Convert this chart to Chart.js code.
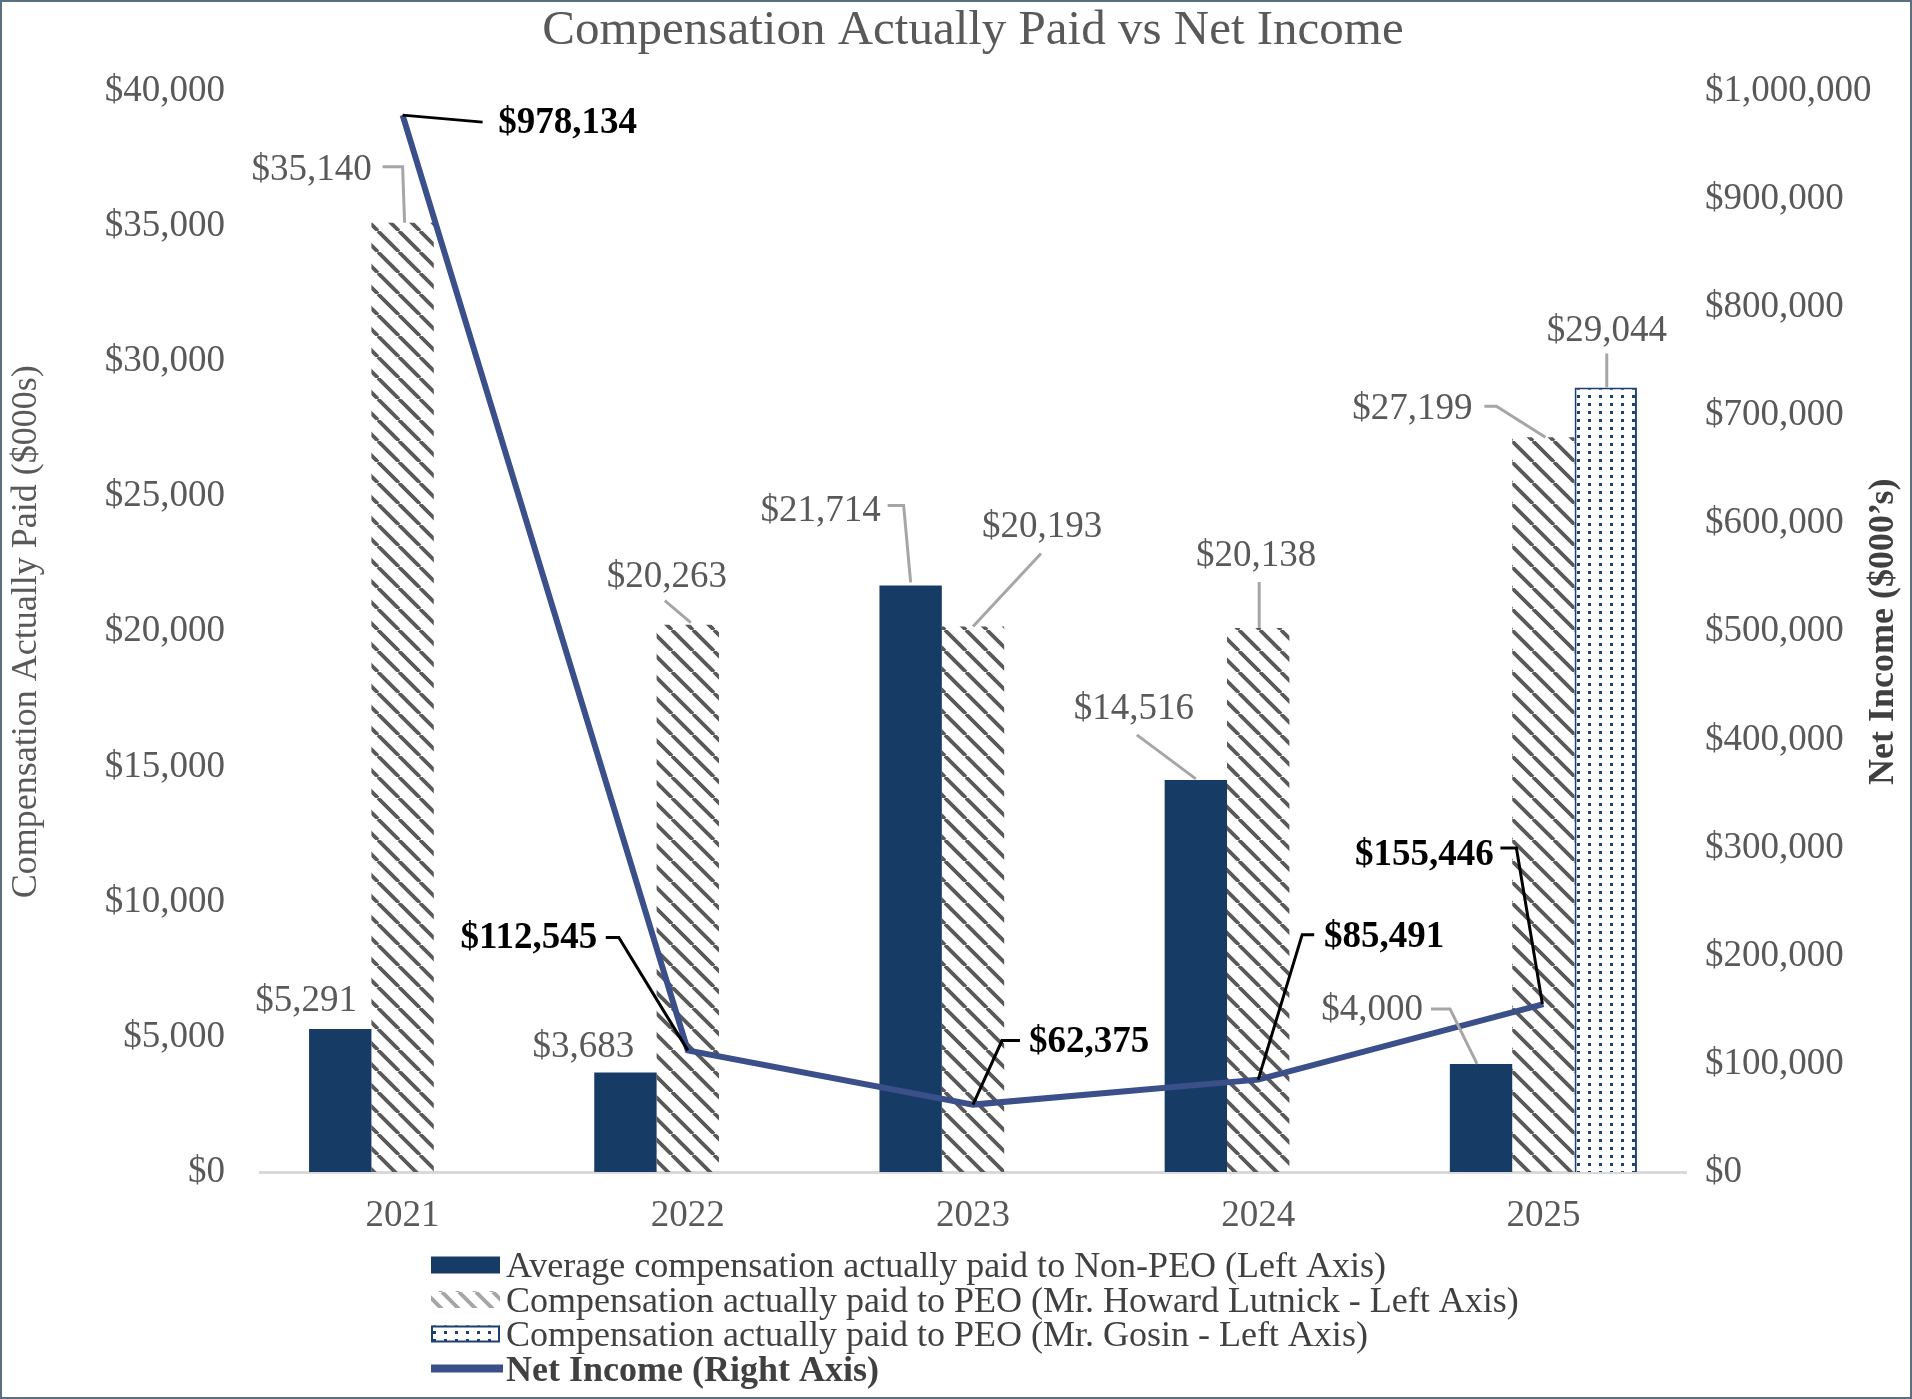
<!DOCTYPE html>
<html>
<head>
<meta charset="utf-8">
<title>Compensation Actually Paid vs Net Income</title>
<script src="https://cdn.jsdelivr.net/npm/chart.js@4.4.1/dist/chart.umd.min.js"></script>
<style>
  html, body { margin: 0; padding: 0; background: #fff; }
  canvas { display: block; }
</style>
</head>
<body>
<canvas id="cap" width="1912" height="1399"></canvas>
<script>
const years = ["2021", "2022", "2023", "2024", "2025"];
const nonPeoAvg = [5291, 3683, 21714, 14516, 4000];
const peoLutnick = [35140, 20263, 20193, 20138, 27199];
const peoGosin = [null, null, null, null, 29044];
const netIncome = [978134, 112545, 62375, 85491, 155446];

const leftMax = 40000, leftStep = 5000;
const rightMax = 1000000, rightStep = 100000;

// where each value label sits, relative to the top of its bar (or its point)
// t = centre of the text, p = leader line
const spotsNonPeo = [
  { t: [-34, -31] },
  { t: [-42, -28] },
  { t: [-90, -77], p: [[0, -3], [-7, -80], [-23, -80]] },
  { t: [-62, -73], p: [[0, -1], [-59, -45]] },
  { t: [-109, -56], p: [[-4, 0], [-31, -55], [-50, -55]] },
];
const spotsLutnick = [
  { t: [-91, -55], p: [[2, 0], [0, -56], [-20, -56]] },
  { t: [-21, -50], p: [[3, -2], [-23, -24]] },
  { t: [69, -102], p: [[0, 0], [68, -73]] },
  { t: [-2, -75], p: [[1, 0], [1, -46]] },
  { t: [-131, -31], p: [[2, 0], [-47, -31], [-59, -31]] },
];
const spotsGosin = [null, null, null, null, { t: [1, -59], p: [[1, 0], [1, -34]] }];
const spotsNet = [
  { t: [165, 5], p: [[0, 0], [80, 7]] },
  { t: [-159, -115], p: [[0, 0], [-69, -113], [-82, -113]] },
  { t: [116, -65], p: [[0, 0], [29, -64], [47, -64]] },
  { t: [126, -145], p: [[0, 0], [44, -145], [56, -145]] },
  { t: [-119, -152], p: [[-1, 0], [-27, -156], [-43, -156]] },
];

const SERIF = "'Liberation Serif', 'Times New Roman', serif";
const GREY = "#595959";
const NAVY = "#163c66";
const LINE = "#3b4f8a";

Chart.defaults.font.family = SERIF;

function money(v) {
  return "$" + Number(v).toLocaleString("en-US");
}

function hatch(color, size, width) {
  const c = document.createElement("canvas");
  c.width = c.height = size;
  const g = c.getContext("2d");
  g.strokeStyle = color;
  g.lineWidth = width;
  g.beginPath();
  for (const o of [-size, 0, size]) {
    g.moveTo(o, 0);
    g.lineTo(o + size, size);
  }
  g.stroke();
  return g.createPattern(c, "repeat");
}

function dots(color) {
  const c = document.createElement("canvas");
  c.width = 11;
  c.height = 8;
  const g = c.getContext("2d");
  g.fillStyle = "#fff";
  g.fillRect(0, 0, 11, 8);
  g.fillStyle = color;
  g.fillRect(4, 3, 3, 3);
  return g.createPattern(c, "repeat");
}

const hatchBar = hatch(GREY, 21, 3.8);
const hatchKey = hatch("#a6a6a6", 17, 4);
const dotBar = dots("#1c4170");

const valueLabels = {
  id: "valueLabels",
  afterDatasetsDraw(chart) {
    const ctx = chart.ctx;
    const looks = [
      { spots: spotsNonPeo, font: "37px " + SERIF, color: GREY, lead: "#a6a6a6" },
      { spots: spotsLutnick, font: "37px " + SERIF, color: GREY, lead: "#a6a6a6" },
      { spots: spotsGosin, font: "37px " + SERIF, color: GREY, lead: "#a6a6a6" },
      { spots: spotsNet, font: "bold 37px " + SERIF, color: "#000", lead: "#000" },
    ];
    ctx.save();
    looks.forEach((look, di) => {
      const meta = chart.getDatasetMeta(di);
      const data = chart.data.datasets[di].data;
      meta.data.forEach((el, i) => {
        const s = look.spots[i];
        if (data[i] == null || !s) return;
        const x = el.x, y = el.y;
        if (s.p) {
          ctx.strokeStyle = look.lead;
          ctx.lineWidth = 3;
          ctx.lineJoin = "miter";
          ctx.beginPath();
          s.p.forEach((q, k) => {
            if (k === 0) ctx.moveTo(x + q[0], y + q[1]);
            else ctx.lineTo(x + q[0], y + q[1]);
          });
          ctx.stroke();
        }
        ctx.font = look.font;
        ctx.fillStyle = look.color;
        ctx.textAlign = "center";
        ctx.textBaseline = "alphabetic";
        ctx.fillText(money(data[i]), x + s.t[0], y + s.t[1] + 12.5);
      });
    });
    ctx.restore();
  },
};

const sideBits = {
  id: "sideBits",
  afterDraw(chart) {
    const ctx = chart.ctx;
    const area = chart.chartArea;
    ctx.save();

    // right axis title, reading bottom to top
    ctx.translate(1884, (area.top + area.bottom) / 2);
    ctx.rotate(-Math.PI / 2);
    ctx.font = "bold 36px " + SERIF;
    ctx.fillStyle = "#404040";
    ctx.textAlign = "center";
    ctx.textBaseline = "middle";
    ctx.fillText("Net Income ($000\u2019s)", 0, 0);
    ctx.setTransform(1, 0, 0, 1, 0, 0);

    // legend, one entry per row
    const sets = chart.data.datasets;
    const keyX = 431, keyW = 69, keyH = 17, textX = 506;
    sets.forEach((ds, i) => {
      const cy = 1265 + i * 34.5;
      if (ds.type === "line") {
        ctx.fillStyle = ds.borderColor;
        ctx.fillRect(keyX, cy - 4, 72, 8);
      } else {
        ctx.fillStyle = i === 1 ? hatchKey : ds.backgroundColor;
        ctx.fillRect(keyX, cy - keyH / 2, keyW, keyH);
        if (ds.borderWidth) {
          ctx.strokeStyle = ds.borderColor;
          ctx.lineWidth = 2;
          ctx.strokeRect(keyX + 1, cy - keyH / 2 + 1, keyW - 2, keyH - 2);
        }
      }
      ctx.font = (ds.type === "line" ? "bold " : "") + "36px " + SERIF;
      ctx.fillStyle = "#404040";
      ctx.textAlign = "left";
      ctx.textBaseline = "alphabetic";
      ctx.fillText(ds.label, textX, cy + 12);
    });

    // frame
    ctx.strokeStyle = "#5b6f80";
    ctx.lineWidth = 2;
    ctx.strokeRect(1, 1, 1910, 1397);
    ctx.restore();
  },
};

new Chart(document.getElementById("cap"), {
  type: "bar",
  data: {
    labels: years,
    datasets: [
      {
        label: "Average compensation actually paid to Non-PEO (Left Axis)",
        data: nonPeoAvg,
        backgroundColor: NAVY,
        borderWidth: 0,
        yAxisID: "y",
        order: 2,
      },
      {
        label: "Compensation actually paid to PEO (Mr. Howard Lutnick - Left Axis)",
        data: peoLutnick,
        backgroundColor: hatchBar,
        borderWidth: 0,
        yAxisID: "y",
        order: 2,
      },
      {
        label: "Compensation actually paid to PEO (Mr. Gosin - Left Axis)",
        data: peoGosin,
        backgroundColor: dotBar,
        borderColor: "#1c4170",
        borderWidth: 2,
        yAxisID: "y",
        order: 2,
      },
      {
        type: "line",
        label: "Net Income (Right Axis)",
        data: netIncome,
        borderColor: LINE,
        backgroundColor: LINE,
        borderWidth: 6,
        pointRadius: 0,
        pointHitRadius: 0,
        tension: 0,
        borderJoinStyle: "miter",
        yAxisID: "y1",
        order: 1,
      },
    ],
  },
  options: {
    responsive: false,
    animation: false,
    devicePixelRatio: 1,
    categoryPercentage: 0.656,
    barPercentage: 1,
    layout: { padding: 0 },
    plugins: {
      legend: { display: false },
      tooltip: { enabled: false },
      title: {
        display: true,
        fullSize: false,
        text: "Compensation Actually Paid vs Net Income",
        color: GREY,
        font: { size: 49, weight: "normal", lineHeight: 1 },
        padding: { top: 7, bottom: 35.5 },
      },
    },
    scales: {
      x: {
        grid: { display: false, drawTicks: false },
        border: { display: true, color: "#d9d9d9", width: 3 },
        ticks: { color: GREY, font: { size: 37 }, padding: 22 },
        afterFit(s) { s.height = 227; },
      },
      y: {
        position: "left",
        min: 0,
        max: leftMax,
        grid: { display: false, drawTicks: false },
        border: { display: false },
        ticks: { stepSize: leftStep, color: GREY, font: { size: 37 }, padding: 35, callback: money },
        title: {
          display: true,
          text: "Compensation Actually Paid ($000s)",
          color: GREY,
          font: { size: 36 },
          padding: { top: 5, bottom: 0 },
        },
        afterFit(s) { s.width = 260; },
      },
      y1: {
        position: "right",
        min: 0,
        max: rightMax,
        grid: { display: false, drawTicks: false },
        border: { display: false },
        ticks: { stepSize: rightStep, color: GREY, font: { size: 37 }, padding: 19, callback: money },
        afterFit(s) { s.width = 226; },
      },
    },
  },
  plugins: [valueLabels, sideBits],
});
</script>
</body>
</html>
